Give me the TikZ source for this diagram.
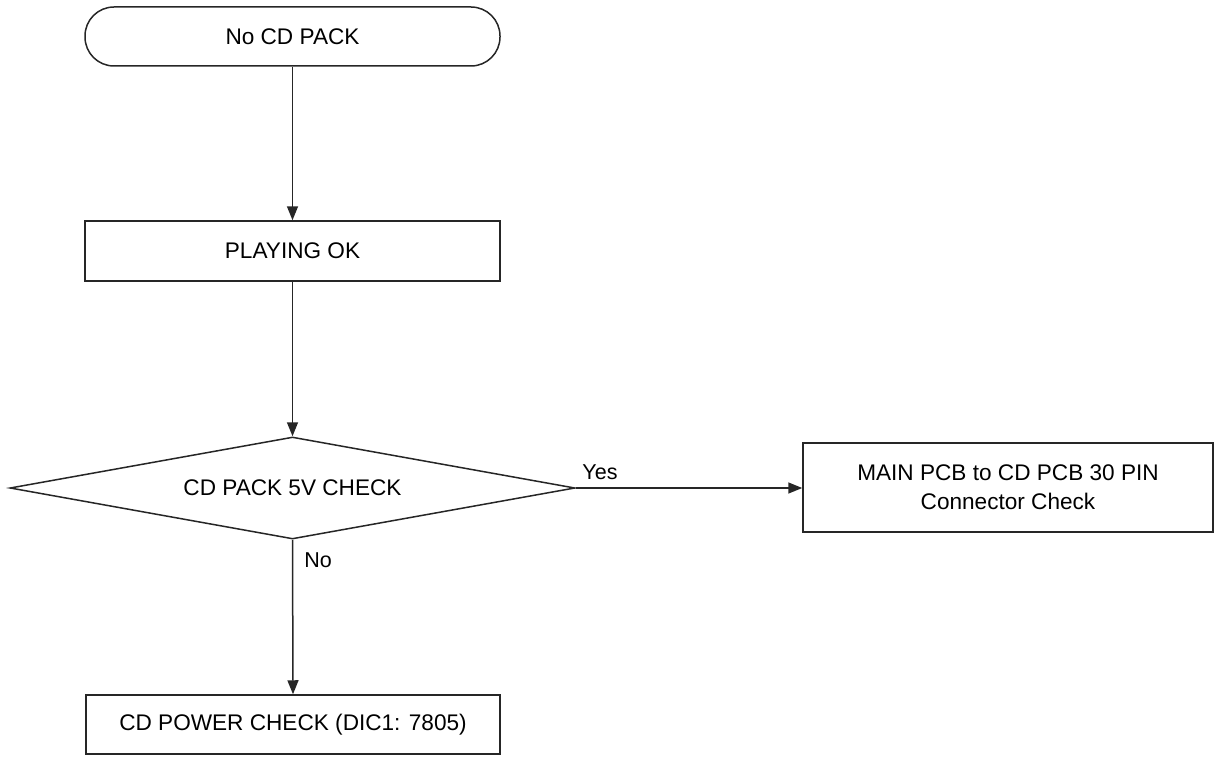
\documentclass[tikz,border=0pt]{standalone}
\usepackage{fontspec}
\setmainfont{Liberation Sans}
\usetikzlibrary{arrows.meta,shapes.geometric}
\begin{document}
\begin{tikzpicture}[x=1pt,y=-1pt,
  every node/.style={font=\fontsize{22.6}{29}\selectfont, inner sep=0pt},
  box/.style={draw=black!85, line width=1.5pt, rectangle, align=center},
  term/.style={box, rounded corners=29pt},
  dec/.style={draw=black!85, line width=1.5pt, diamond, aspect=5.54, minimum width=565pt, minimum height=102pt},
  conn/.style={draw=black!85, line width=1.5pt, -{Triangle[length=14pt,width=11pt]}},
  lbl/.style={font=\fontsize{21.5}{25}\selectfont}
]
\useasboundingbox (0,0) rectangle (1215,757);
\node[term, minimum width=415pt, minimum height=59pt] (start) at (292.5,36.5) {No CD PACK};
\node[box, minimum width=415pt, minimum height=60pt] (play) at (292.5,251) {PLAYING OK};
\node[dec] (chk) at (292.5,488) {CD PACK 5V CHECK};
\node[box, minimum width=410pt, minimum height=89pt] (conn) at (1008,487.5) {MAIN PCB to CD PCB 30 PIN\\Connector Check};
\node[box, minimum width=414pt, minimum height=59pt] (pwr) at (293,724.5) {CD POWER CHECK (DIC1: 7805)};
\draw[conn] (start) -- (play);
\draw[conn] (play) -- (chk);
\draw[conn] (chk.east) -- (chk.east -| conn.west);
\draw[conn] (chk.south) -- (pwr.north);
\node[lbl] (yes) at (600,472) {Yes};
\node[lbl] (no) at (318,560) {No};
\end{tikzpicture}
\end{document}
